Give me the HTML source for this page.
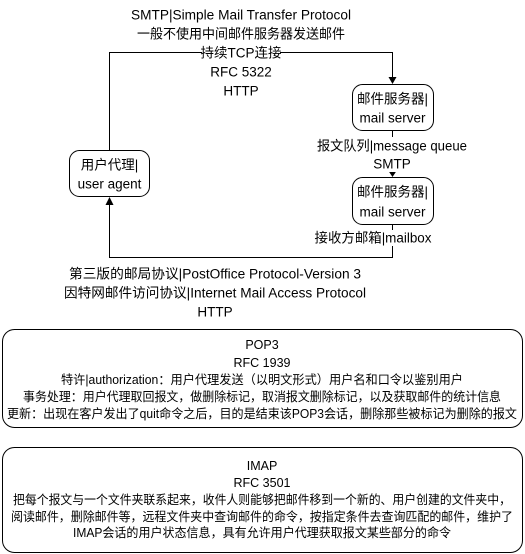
<!DOCTYPE html>
<html><head><meta charset="utf-8"><style>
html,body{margin:0;padding:0;background:#fff;}
svg{display:block;}
text{font-family:"Liberation Sans","Noto Sans CJK SC",sans-serif;fill:#000;text-anchor:middle;dominant-baseline:central;}
</style></head><body>
<svg width="525" height="554" viewBox="0 0 525 554" xmlns="http://www.w3.org/2000/svg">
<g fill="none" stroke="#000" stroke-width="1">
<polyline points="109.5,150 109.5,52.5 392.5,52.5 392.5,77"/>
<polyline points="392.5,225 392.5,257.5 109.5,257.5 109.5,205"/>
<line x1="392.5" y1="130" x2="392.5" y2="171"/>
</g>
<g fill="#000">
<polygon points="388.5,77 396.5,77 392.5,84"/>
<polygon points="388.5,171 396.5,171 392.5,177"/>
<polygon points="105.5,205 113.5,205 109.5,197"/>
</g>
<g fill="#fff" stroke="#000">
<rect x="69.5" y="150.5" width="80" height="46" rx="10"/>
<rect x="352.5" y="84.5" width="81" height="46" rx="10"/>
<rect x="352.5" y="177.5" width="81" height="47" rx="10"/>
<rect x="2.5" y="329.5" width="520" height="98" rx="12"/>
<rect x="2.5" y="447.5" width="520" height="105" rx="12"/>
</g>
<g font-size="13.5">
<rect x="202" y="45" width="78" height="15" fill="#fff"/>
<text x="241" y="15" textLength="220" lengthAdjust="spacingAndGlyphs">SMTP|Simple Mail Transfer Protocol</text>
<text x="241" y="34" textLength="208" lengthAdjust="spacingAndGlyphs">一般不使用中间邮件服务器发送邮件</text>
<text x="241" y="53">持续TCP连接</text>
<text x="241" y="72">RFC 5322</text>
<text x="241" y="91">HTTP</text>
<text x="109.5" y="165">用户代理|</text>
<text x="109.5" y="184">user agent</text>
<text x="392.5" y="99">邮件服务器|</text>
<text x="392.5" y="118">mail server</text>
<text x="392.5" y="192">邮件服务器|</text>
<text x="392.5" y="212">mail server</text>
<rect x="316" y="137" width="152" height="35" fill="#fff"/>
<text x="392" y="146" textLength="150" lengthAdjust="spacingAndGlyphs">报文队列|message queue</text>
<text x="392" y="164">SMTP</text>
<rect x="314" y="230" width="118" height="16" fill="#fff"/>
<text x="373" y="238" textLength="117" lengthAdjust="spacingAndGlyphs">接收方邮箱|mailbox</text>
<text x="215" y="274" textLength="292" lengthAdjust="spacingAndGlyphs">第三版的邮局协议|PostOffice Protocol-Version 3</text>
<text x="215" y="293" textLength="302" lengthAdjust="spacingAndGlyphs">因特网邮件访问协议|Internet Mail Access Protocol</text>
<text x="215" y="312">HTTP</text>
</g>
<g font-size="12.5">
<text x="262" y="345">POP3</text>
<text x="262" y="363">RFC 1939</text>
<text x="262" y="380" textLength="402" lengthAdjust="spacingAndGlyphs">特许|authorization：用户代理发送（以明文形式）用户名和口令以鉴别用户</text>
<text x="262" y="397" textLength="478" lengthAdjust="spacingAndGlyphs">事务处理：用户代理取回报文，做删除标记，取消报文删除标记，以及获取邮件的统计信息</text>
<text x="262" y="414" textLength="510" lengthAdjust="spacingAndGlyphs">更新：出现在客户发出了quit命令之后，目的是结束该POP3会话，删除那些被标记为删除的报文</text>
<text x="262" y="466">IMAP</text>
<text x="262" y="483">RFC 3501</text>
<text x="262" y="500" textLength="498" lengthAdjust="spacingAndGlyphs">把每个报文与一个文件夹联系起来，收件人则能够把邮件移到一个新的、用户创建的文件夹中，</text>
<text x="262" y="517" textLength="502" lengthAdjust="spacingAndGlyphs">阅读邮件，删除邮件等，远程文件夹中查询邮件的命令，按指定条件去查询匹配的邮件，维护了</text>
<text x="262" y="533" textLength="378" lengthAdjust="spacingAndGlyphs">IMAP会话的用户状态信息，具有允许用户代理获取报文某些部分的命令</text>
</g>
</svg>
</body></html>
